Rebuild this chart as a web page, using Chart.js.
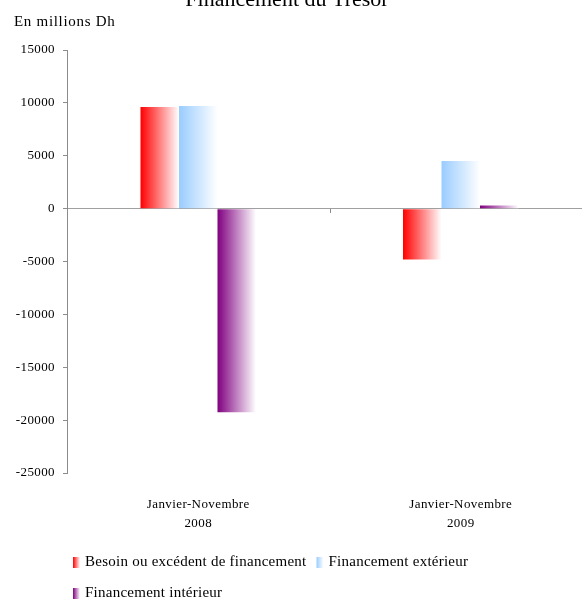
<!DOCTYPE html>
<html>
<head>
<meta charset="utf-8">
<script src="https://cdn.jsdelivr.net/npm/chart.js@4"></script>
<style>
  html, body { margin: 0; padding: 0; background: #fff; }
  #wrap { width: 582px; height: 601px; position: relative; overflow: hidden; }
  #c { display: block; }
</style>
</head>
<body>
<div id="wrap"><canvas id="c" width="592" height="601"></canvas></div>
<script>
// Treasury financing, January–November, millions of dirhams
const categories = [['Janvier-Novembre', '2008'], ['Janvier-Novembre', '2009']];
const seriesNames = ['Besoin ou excédent de financement', 'Financement extérieur', 'Financement intérieur'];
const besoin = [9600, -4800];
const exterieur = [9700, 4500];
const interieur = [-19250, 300];
const yTicks = [15000, 10000, 5000, 0, -5000, -10000, -15000, -20000, -25000];
const chartTitle = 'Financement du Trésor';
const unitLabel = 'En millions Dh';

const seriesColors = ['#ff0000', '#99ccff', '#800080'];
const FONT = "'Liberation Serif', 'Times New Roman', serif";
const AXIS_GREY = '#8c8c8c';

Chart.defaults.font.family = FONT;
Chart.defaults.color = '#000';

// colour fading to white from left to right
function fade(ctx, x0, x1, color) {
  const g = ctx.createLinearGradient(x0, 0, x1, 0);
  g.addColorStop(0, color);
  g.addColorStop(1, '#ffffff');
  return g;
}

// slightly airy lettering for the axis labels
const spacing = {
  id: 'spacing',
  beforeDraw(chart) { chart.ctx.letterSpacing = '0.4px'; },
  beforeDatasetsDraw(chart) { chart.ctx.letterSpacing = '0px'; }
};

const gradientBars = {
  id: 'gradientBars',
  beforeDatasetsDraw(chart) {
    chart.data.datasets.forEach((ds, i) => {
      chart.getDatasetMeta(i).data.forEach(el => {
        const { x, width } = el.getProps(['x', 'width'], true);
        el.options = Object.assign({}, el.options, {
          backgroundColor: fade(chart.ctx, x - width / 2, x + width / 2, seriesColors[i])
        });
      });
    });
  }
};

const decorations = {
  id: 'decorations',
  afterDraw(chart) {
    const ctx = chart.ctx;
    const xs = chart.scales.x, ys = chart.scales.y;
    ctx.save();

    // tick between the two categories, hanging below the zero line
    const mid = Math.round((xs.getPixelForValue(0) + xs.getPixelForValue(1)) / 2) + 0.5;
    const y0 = Math.round(ys.getPixelForValue(0));
    ctx.strokeStyle = AXIS_GREY;
    ctx.lineWidth = 1;
    ctx.beginPath();
    ctx.moveTo(mid, y0);
    ctx.lineTo(mid, y0 + 4);
    ctx.stroke();

    // title and unit
    ctx.fillStyle = '#000';
    ctx.textBaseline = 'alphabetic';
    ctx.letterSpacing = '0px';
    ctx.font = '22px ' + FONT;
    ctx.textAlign = 'center';
    ctx.fillText(chartTitle, 287, 6);
    ctx.font = '15px ' + FONT;
    ctx.textAlign = 'left';
    ctx.letterSpacing = '0.7px';
    ctx.fillText(unitLabel, 14, 26);

    // legend
    ctx.font = '15px ' + FONT;
    ctx.letterSpacing = '0.25px';
    const left = 73, rightLimit = 560;
    const baselines = [566, 597];
    let row = 0, x = left;
    chart.data.datasets.forEach((ds, i) => {
      const tw = ctx.measureText(ds.label).width;
      const itemW = 7 + 5 + tw;
      if (x + itemW > rightLimit && x > left) { row++; x = left; }
      const by = baselines[row];
      ctx.fillStyle = fade(ctx, x, x + 7, seriesColors[i]);
      ctx.fillRect(x, by - 9, 7, 11);
      ctx.fillStyle = '#000';
      ctx.fillText(ds.label, x + 12, by);
      x += itemW + 10;
    });
    ctx.restore();
  }
};

new Chart(document.getElementById('c'), {
  type: 'bar',
  data: {
    labels: categories,
    datasets: [
      { label: seriesNames[0], data: besoin },
      { label: seriesNames[1], data: exterieur },
      { label: seriesNames[2], data: interieur }
    ]
  },
  options: {
    responsive: false,
    animation: false,
    events: [],
    layout: { padding: { top: 50, left: 0, right: 0, bottom: 68 } },
    datasets: {
      bar: { categoryPercentage: 0.44, barPercentage: 1, borderWidth: 0 }
    },
    plugins: {
      legend: { display: false },
      title: { display: false },
      tooltip: { enabled: false }
    },
    scales: {
      x: {
        grid: { display: false, drawTicks: false },
        border: { display: false },
        ticks: { font: { size: 13, family: FONT, lineHeight: 1.45 }, padding: 22, maxRotation: 0, autoSkip: false, color: '#000' },
        afterFit(s) { s.height = 60; }
      },
      y: {
        min: Math.min(...yTicks),
        max: Math.max(...yTicks),
        afterBuildTicks(s) { s.ticks = yTicks.map(v => ({ value: v })); },
        grid: {
          color: c => (c.tick && c.tick.value === 0) ? '#a0a0a0' : 'rgba(0,0,0,0)',
          tickColor: AXIS_GREY,
          tickLength: 4,
          lineWidth: 1
        },
        border: { display: true, color: AXIS_GREY, width: 1 },
        ticks: { font: { size: 13, family: FONT }, padding: 8, color: '#000', callback: v => String(v) },
        afterFit(s) { s.width = 67; }
      }
    }
  },
  plugins: [spacing, gradientBars, decorations]
});
</script>
</body>
</html>
